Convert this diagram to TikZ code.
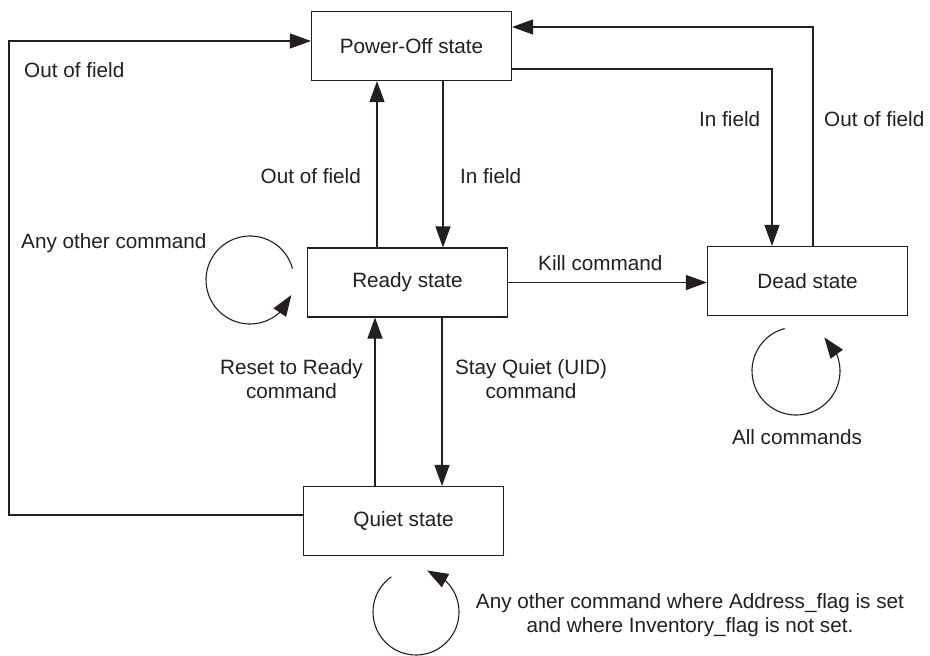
\documentclass[tikz,border=0pt]{standalone}
\usepackage{fontspec}
\setmainfont{Liberation Sans}
\usetikzlibrary{arrows.meta,bending}
\definecolor{ink}{HTML}{231F20}
\begin{document}
\begin{tikzpicture}[x=1pt,y=-1pt,
  every node/.style={font=\fontsize{20.7}{24}\selectfont, text=ink},
  statebox/.style={draw=ink, line width=1.1pt, fill=white, minimum width=200pt, minimum height=69pt, inner sep=0pt},
  lbl/.style={inner sep=0pt, align=center},
  arr/.style={draw=ink, line width=1.1pt, -{Triangle[length=21pt,width=15pt]}},
  ln/.style={draw=ink, line width=1.1pt}]
\useasboundingbox (0,0) rectangle (930,656);

\node[statebox] (poweroff) at (411.5,46) {Power-Off state};
\node[statebox] (ready) at (407.5,282.5) {Ready state};
\node[statebox] (dead) at (807.5,281) {Dead state};
\node[statebox] (quiet) at (403.5,521) {Quiet state};

% Power-Off <-> Ready
\draw[arr] (ready.north -| 377,0) -- (poweroff.south -| 377,0);
\draw[arr] (poweroff.south -| 443,0) -- (ready.north -| 443,0);
% Ready <-> Quiet
\draw[arr] (quiet.north -| 375,0) -- (ready.south -| 375,0);
\draw[arr] (ready.south -| 442,0) -- (quiet.north -| 442,0);
% Kill
\draw[arr] (ready.east) -- (dead.west |- ready.east);
% Quiet -> Power-Off (out of field)
\draw[arr] (quiet.west |- 0,515) -- (9,515) -- (9,41) -- (poweroff.west |- 0,41);
% Power-Off -> Dead (in field)
\draw[arr] (poweroff.east |- 0,69) -| (dead.north -| 772,0);
% Dead -> Power-Off (out of field)
\draw[arr] (dead.north -| 813,0) |- (poweroff.east |- 0,27);

% self loops
\coordinate (rl) at (250,280);
\draw[arr] (rl) ++(-15:44) arc[start angle=-15, end angle=-340, radius=44];
\coordinate (dl) at (796,371);
\draw[arr] (dl) ++(-105:44) arc[start angle=-105, end angle=-410, radius=44];
\coordinate (ql) at (416,612);
\draw[arr] (ql) ++(-125:43) arc[start angle=-125, end angle=-435, radius=43];

% labels
\node[lbl, anchor=west] (l1) at (24,70) {Out of field};
\node[lbl, anchor=east] (l2) at (361,176) {Out of field};
\node[lbl, anchor=west] (l3) at (460,176) {In field};
\node[lbl, anchor=west] (l4) at (699,119) {In field};
\node[lbl, anchor=west] (l5) at (824,119) {Out of field};
\node[lbl, anchor=west] (l6) at (21,243) {Any other command};
\node[lbl, anchor=west] (l7) at (538,263) {Kill command};
\node[lbl] (l8) at (291.5,379.5) {Reset to Ready\\command};
\node[lbl] (l9) at (531,379.5) {Stay Quiet (UID)\\command};
\node[lbl] (l10) at (797,437) {All commands};
\node[lbl] (l11) at (690,615) {Any other command where Address\_flag is set\\and where Inventory\_flag is not set.};
\end{tikzpicture}
\end{document}
